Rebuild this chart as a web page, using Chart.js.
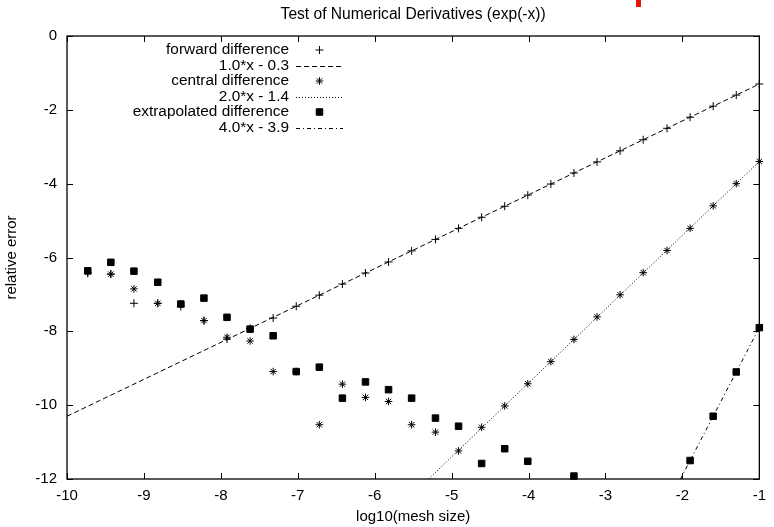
<!DOCTYPE html>
<html>
<head>
<meta charset="utf-8">
<script src="https://cdn.jsdelivr.net/npm/chart.js@4.4.0/dist/chart.umd.min.js"></script>
<style>
  body { margin: 0; background: #fff; }
  #wrap { position: relative; width: 774px; height: 527px; }
  #mark { position: absolute; left: 636px; top: 0; width: 5px; height: 7px; background: #e8140c; }
</style>
</head>
<body>
<div id="wrap"><canvas id="chart"></canvas><div id="mark"></div></div>
<script>
// log10 of the mesh size, one entry per run (largest step first)
const meshLog = [-1.00, -1.30, -1.60, -1.90, -2.20, -2.51, -2.81, -3.11, -3.41, -3.71,
                 -4.01, -4.31, -4.61, -4.91, -5.21, -5.52, -5.82, -6.12, -6.42, -6.72,
                 -7.02, -7.32, -7.62, -7.92, -8.22, -8.52, -8.82, -9.13, -9.43, -9.73];

// log10 of the relative error for each method
const forwardErr = [-1.30, -1.60, -1.90, -2.20, -2.50, -2.81, -3.11, -3.41, -3.71, -4.01,
                    -4.31, -4.61, -4.91, -5.21, -5.51, -5.82, -6.12, -6.42, -6.72, -7.02,
                    -7.32, -7.64, -7.92, -8.21, -7.71, -7.33, -7.24, -7.24, -6.45, -6.43];
const centralErr = [-3.40, -4.00, -4.60, -5.21, -5.81, -6.41, -7.01, -7.61, -8.22, -8.82,
                    -9.42, -10.02, -10.60, -11.24, -10.73, -10.53, -9.90, -9.79, -9.43, -10.53,
                    -9.09, -9.09, -8.26, -8.16, -7.71, -7.26, -7.24, -6.85, -6.45, -6.40];
const extrapErr = [-7.90, -9.10, -10.30, -11.50, null, null, null, null, -11.92, null,
                   -11.52, -11.18, -11.58, -10.57, -10.35, -9.81, -9.58, -9.37, -9.81, -8.97,
                   -9.09, -8.12, -7.94, -7.62, -7.10, -7.26, -6.67, -6.37, -6.13, -6.36];

// fitted lines, end points as seen inside the frame
const fit1 = [[-10, -10.3], [-1, -1.3]];
const fit2 = [[-5.3, -12], [-1, -3.4]];
const fit3 = [[-2.025, -12], [-1, -7.9]];

const xTicks = [-10, -9, -8, -7, -6, -5, -4, -3, -2, -1];
const yTicks = [0, -2, -4, -6, -8, -10, -12];

const FONT = "'Liberation Sans', Arial, Helvetica, sans-serif";
const TICK = 6;

const pts = (ys) => meshLog.map((x, i) => ({ x: x, y: ys[i] }));
const seg = (p) => p.map(([x, y]) => ({ x, y }));

function drawMark(ctx, ds, x, y) {
  const opts = { pointStyle: ds.pointStyle, radius: ds.pointRadius, rotation: 0, borderWidth: 1 };
  ctx.fillStyle = '#000';
  ctx.strokeStyle = '#000';
  ctx.lineWidth = 1;
  Chart.helpers.drawPoint(ctx, opts, x, y);
}

const frameTicks = {
  id: 'frameTicks',
  afterDatasetsDraw(chart) {
    const { ctx, chartArea: a, scales: { x, y } } = chart;
    ctx.save();
    ctx.strokeStyle = '#000';
    ctx.lineWidth = 1;
    ctx.setLineDash([]);
    ctx.beginPath();
    xTicks.forEach(v => {
      const px = Math.round(x.getPixelForValue(v)) + 0.5;
      ctx.moveTo(px, a.bottom); ctx.lineTo(px, a.bottom - TICK);
      ctx.moveTo(px, a.top); ctx.lineTo(px, a.top + TICK);
    });
    yTicks.forEach(v => {
      const py = Math.round(y.getPixelForValue(v)) + 0.5;
      ctx.moveTo(a.left, py); ctx.lineTo(a.left + TICK, py);
      ctx.moveTo(a.right, py); ctx.lineTo(a.right - TICK, py);
    });
    ctx.stroke();
    ctx.lineWidth = 1.3;
    ctx.strokeRect(a.left, a.top, a.right - a.left, a.bottom - a.top);
    ctx.restore();
  },
  afterDraw(chart) {
    // gnuplot style key: label right aligned, sample to the right
    const { ctx } = chart;
    const textRight = 289, sx0 = 296, sx1 = 343, top = 50, step = 15.5;
    ctx.save();
    ctx.font = '15.4px ' + FONT;
    ctx.textAlign = 'right';
    ctx.textBaseline = 'middle';
    chart.data.datasets.forEach((ds, i) => {
      const yy = top + i * step;
      ctx.fillStyle = '#000';
      ctx.fillText(ds.label, textRight, yy);
      if (ds.showLine) {
        ctx.strokeStyle = '#000';
        ctx.lineWidth = 1;
        ctx.setLineDash(ds.borderDash);
        ctx.beginPath();
        ctx.moveTo(sx0, Math.round(yy) + 0.5);
        ctx.lineTo(sx1, Math.round(yy) + 0.5);
        ctx.stroke();
        ctx.setLineDash([]);
      } else {
        drawMark(ctx, ds, (sx0 + sx1) / 2, yy);
      }
    });
    ctx.restore();
  }
};

Chart.defaults.color = '#000';
Chart.defaults.font.family = FONT;
Chart.defaults.font.size = 15;

const pointSet = (label, ys, style, r, order) => ({
  label, data: pts(ys), showLine: false, pointStyle: style, pointRadius: r,
  pointBorderWidth: 1, pointBorderColor: '#000', pointBackgroundColor: '#000',
  clip: false, order
});
const lineSet = (label, p, dash, order) => ({
  label, data: seg(p), showLine: true, borderColor: '#000', borderWidth: 1,
  borderDash: dash, pointRadius: 0, order
});

new Chart(document.getElementById('chart'), {
  type: 'scatter',
  data: {
    datasets: [
      pointSet('forward difference', forwardErr, 'cross', 4, 6),
      lineSet('1.0*x - 0.3', fit1, [5, 3], 5),
      pointSet('central difference', centralErr, 'star', 3.8, 4),
      lineSet('2.0*x - 1.4', fit2, [1, 2], 3),
      pointSet('extrapolated difference', extrapErr, 'rect', 4.6, 2),
      lineSet('4.0*x - 3.9', fit3, [4, 3, 1, 3], 1)
    ]
  },
  options: {
    responsive: true,
    maintainAspectRatio: false,
    animation: false,
    events: [],
    layout: { padding: { top: 0, right: 7, bottom: 0, left: 0 } },
    plugins: {
      legend: { display: false },
      tooltip: { enabled: false },
      title: {
        display: true,
        fullSize: false,
        text: 'Test of Numerical Derivatives (exp(-x))',
        font: { size: 15.6, weight: 'normal' },
        color: '#000',
        padding: { top: 5, bottom: 12.3 }
      }
    },
    scales: {
      x: {
        type: 'linear', min: -10, max: -1,
        grid: { display: false, drawTicks: false },
        border: { display: false },
        ticks: { stepSize: 1, autoSkip: false, padding: 8, maxRotation: 0 },
        title: { display: true, text: 'log10(mesh size)', padding: { top: 0, bottom: 1 } },
        afterFit(s) { s.height = 48; }
      },
      y: {
        type: 'linear', min: -12, max: 0,
        grid: { display: false, drawTicks: false },
        border: { display: false },
        ticks: { stepSize: 2, autoSkip: false, padding: 10 },
        title: { display: true, text: 'relative error', padding: { top: 3, bottom: 0 } },
        afterFit(s) { s.width = 67; }
      }
    }
  },
  plugins: [frameTicks]
});
</script>
</body>
</html>
